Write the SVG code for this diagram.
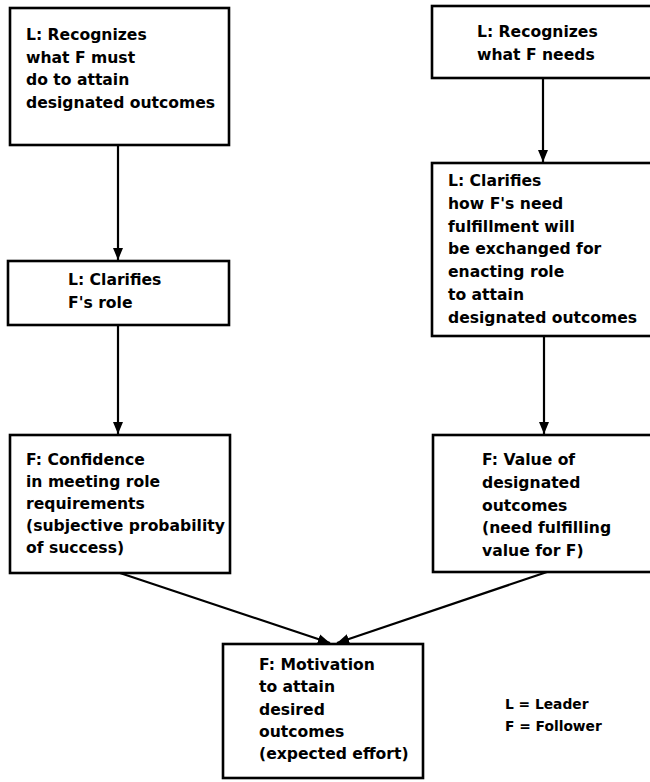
<svg xmlns="http://www.w3.org/2000/svg" width="650" height="782" viewBox="0 0 650 782">
<style>
.box{fill:#fff;stroke:#000;stroke-width:2.6}
.t{font-family:"DejaVu Sans","Liberation Sans",sans-serif;font-weight:bold;font-size:15.6px;fill:#000}
.lg{font-family:"DejaVu Sans","Liberation Sans",sans-serif;font-weight:bold;font-size:13.8px;fill:#000}
.c{fill:none;stroke:#000;stroke-width:2.2}
</style>
<defs>
<marker id="ah" viewBox="0 0 12 10" refX="12" refY="5" markerWidth="5.5" markerHeight="4.6" orient="auto" markerUnits="strokeWidth">
<path d="M0,0 L12,5 L0,10 z" fill="#000"/>
</marker>
</defs>
<rect width="650" height="782" fill="#fff"/>
<g id="connectors">
<line class="c" x1="118" y1="145" x2="118" y2="260" marker-end="url(#ah)"/>
<line class="c" x1="118" y1="325" x2="118" y2="434" marker-end="url(#ah)"/>
<line class="c" x1="543" y1="78" x2="543" y2="162" marker-end="url(#ah)"/>
<line class="c" x1="544" y1="336" x2="544" y2="434" marker-end="url(#ah)"/>
<line class="c" x1="120" y1="573" x2="330" y2="643" marker-end="url(#ah)"/>
<line class="c" x1="547" y1="572" x2="337" y2="643" marker-end="url(#ah)"/>
</g>
<g id="n1">
<rect class="box" x="10" y="8" width="219" height="137"/>
<text class="t" x="26" y="40">L: Recognizes</text>
<text class="t" x="26" y="62.5">what F must</text>
<text class="t" x="26" y="85">do to attain</text>
<text class="t" x="26" y="107.5">designated outcomes</text>
</g>
<g id="n2">
<rect class="box" x="432" y="6" width="230" height="72"/>
<text class="t" x="477" y="37">L: Recognizes</text>
<text class="t" x="477" y="60">what F needs</text>
</g>
<g id="n3">
<rect class="box" x="8" y="261" width="221" height="64"/>
<text class="t" x="68" y="285">L: Clarifies</text>
<text class="t" x="68" y="308">F's role</text>
</g>
<g id="n4">
<rect class="box" x="432" y="163" width="230" height="173"/>
<text class="t" x="448" y="186">L: Clarifies</text>
<text class="t" x="448" y="208.8">how F's need</text>
<text class="t" x="448" y="231.6">fulfillment will</text>
<text class="t" x="448" y="254.4">be exchanged for</text>
<text class="t" x="448" y="277.2">enacting role</text>
<text class="t" x="448" y="300">to attain</text>
<text class="t" x="448" y="322.8">designated outcomes</text>
</g>
<g id="n5">
<rect class="box" x="10" y="435" width="220" height="138"/>
<text class="t" x="26" y="465">F: Confidence</text>
<text class="t" x="26" y="487">in meeting role</text>
<text class="t" x="26" y="509">requirements</text>
<text class="t" x="26" y="531">(subjective probability</text>
<text class="t" x="26" y="553">of success)</text>
</g>
<g id="n6">
<rect class="box" x="433" y="435" width="230" height="137"/>
<text class="t" x="482" y="465">F: Value of</text>
<text class="t" x="482" y="488">designated</text>
<text class="t" x="482" y="510.5">outcomes</text>
<text class="t" x="482" y="533">(need fulfilling</text>
<text class="t" x="482" y="556">value for F)</text>
</g>
<g id="n7">
<rect class="box" x="223" y="644" width="200" height="134"/>
<text class="t" x="259" y="670">F: Motivation</text>
<text class="t" x="259" y="692">to attain</text>
<text class="t" x="259" y="714.5">desired</text>
<text class="t" x="259" y="737">outcomes</text>
<text class="t" x="259" y="759">(expected effort)</text>
</g>
<g id="legend">
<text class="lg" x="505" y="709">L = Leader</text>
<text class="lg" x="505" y="731">F = Follower</text>
</g>
</svg>
